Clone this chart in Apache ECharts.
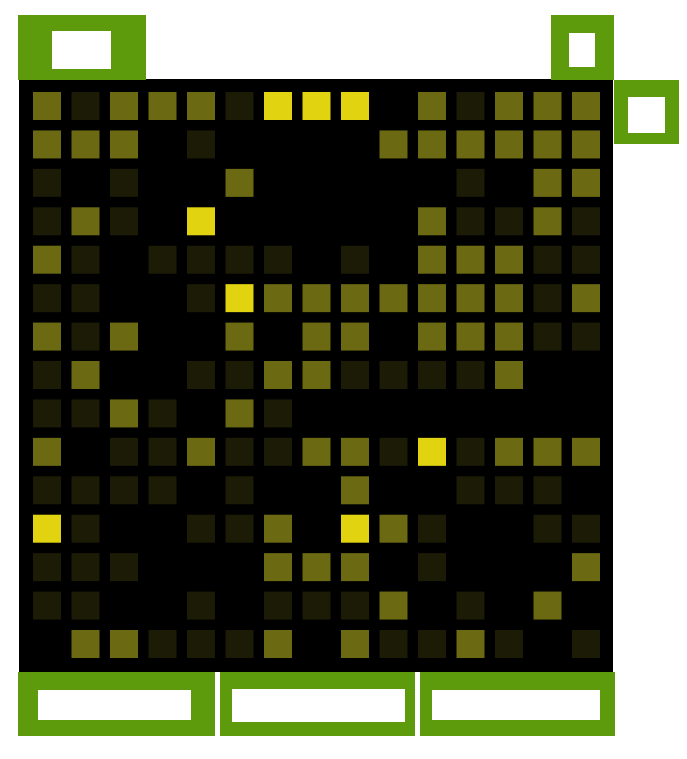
<!DOCTYPE html>
<html>
<head>
<meta charset="utf-8">
<script src="https://cdn.jsdelivr.net/npm/echarts@6/dist/echarts.min.js"></script>
<style>html,body{margin:0;padding:0;background:#fff;}#c{width:687px;height:759px;}</style>
</head>
<body>
<div id="c"></div>
<script>
const cols = ['1','2','3','4','5','6','7','8','9','10','11','12','13','14','15'];
const rows = ['1','2','3','4','5','6','7','8','9','10','11','12','13','14','15'];
// intensity levels: 0 empty, 1 dark, 2 olive, 3 bright
const r01 = [2,1,2,2,2,1,3,3,3,0,2,1,2,2,2];
const r02 = [2,2,2,0,1,0,0,0,0,2,2,2,2,2,2];
const r03 = [1,0,1,0,0,2,0,0,0,0,0,1,0,2,2];
const r04 = [1,2,1,0,3,0,0,0,0,0,2,1,1,2,1];
const r05 = [2,1,0,1,1,1,1,0,1,0,2,2,2,1,1];
const r06 = [1,1,0,0,1,3,2,2,2,2,2,2,2,1,2];
const r07 = [2,1,2,0,0,2,0,2,2,0,2,2,2,1,1];
const r08 = [1,2,0,0,1,1,2,2,1,1,1,1,2,0,0];
const r09 = [1,1,2,1,0,2,1,0,0,0,0,0,0,0,0];
const r10 = [2,0,1,1,2,1,1,2,2,1,3,1,2,2,2];
const r11 = [1,1,1,1,0,1,0,0,2,0,0,1,1,1,0];
const r12 = [3,1,0,0,1,1,2,0,3,2,1,0,0,1,1];
const r13 = [1,1,1,0,0,0,2,2,2,0,1,0,0,0,2];
const r14 = [1,1,0,0,1,0,1,1,1,2,0,1,0,2,0];
const r15 = [0,2,2,1,1,1,2,0,2,1,1,2,1,0,1];
const grid = [r01,r02,r03,r04,r05,r06,r07,r08,r09,r10,r11,r12,r13,r14,r15];

const levelColors = ['rgba(0,0,0,0)', '#1c1b06', '#6b6912', '#e1d30f'];

const data = [];
grid.forEach((row, ri) => {
  row.forEach((v, ci) => {
    if (v > 0) data.push({ value: [cols[ci], rows[ri], v], itemStyle: { color: levelColors[v], opacity: 1 } });
  });
});

const green = '#5d9b0d';
function box(x, y, w, h, wx, wy, ww, wh) {
  return [
    { type: 'rect', shape: { x: x, y: y, width: w, height: h }, style: { fill: green }, z: 1 },
    { type: 'rect', shape: { x: wx, y: wy, width: ww, height: wh }, style: { fill: '#ffffff' }, z: 2 }
  ];
}

const graphics = [].concat(
  box(18, 15, 128, 65, 52, 31, 59, 38),
  box(551, 15, 63, 65, 569, 33, 26, 34),
  box(614, 80, 65, 64, 628, 97, 37, 36),
  box(18, 672, 197, 64, 38, 690, 153, 30),
  box(220, 672, 195, 64, 232, 689, 173, 33),
  box(420, 672, 195, 64, 432, 690, 168, 30),
  [{ type: 'rect', shape: { x: 19, y: 79, width: 594, height: 593 }, style: { fill: '#000000' }, z: 0 }]
);

const chart = echarts.init(document.getElementById('c'), null, { renderer: 'canvas' });
chart.setOption({
  animation: false,
  backgroundColor: '#ffffff',
  graphic: graphics,
  grid: { left: 27.75, top: 86.8, width: 577.5, height: 576.4, containLabel: false },
  xAxis: { type: 'category', data: cols, show: false, boundaryGap: true },
  yAxis: { type: 'category', data: rows, inverse: true, show: false, boundaryGap: true },
  series: [{
    type: 'scatter',
    symbol: 'rect',
    symbolSize: 28,
    itemStyle: { opacity: 1 },
    data: data,
    z: 5
  }]
});
</script>
</body>
</html>
